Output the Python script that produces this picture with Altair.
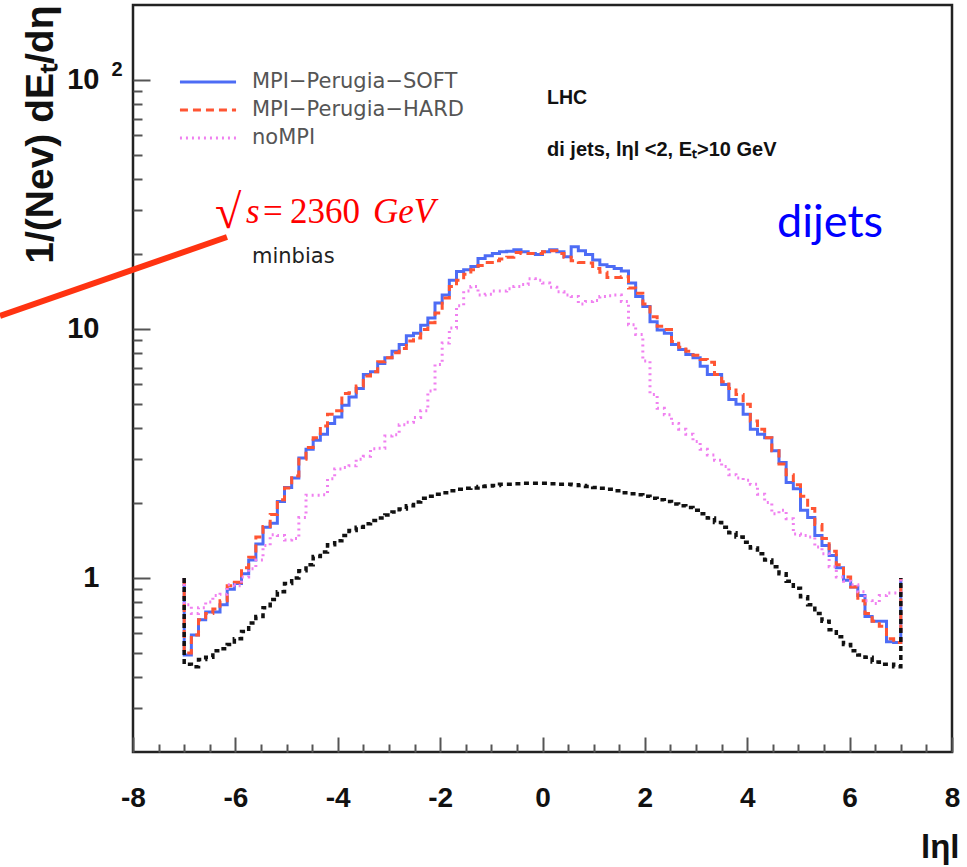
import altair as alt
import pandas as pd

# ---------------- data ----------------
ETA_MIN, ETA_MAX = -7.0, 7.0     # histogram range (100 bins)
EDGE_LEVEL = 1.0                 # level the outer histogram edges are drawn up to

SERIES = ["MPI\u2212Perugia\u2212SOFT", "MPI\u2212Perugia\u2212HARD", "noMPI"]
COLORS = ["#4d6cf5", "#ff5533", "#f080f0"]
DASHES = [[1, 0], [8, 5], [2, 4]]

soft = [0.49, 0.59, 0.68, 0.73, 0.73, 0.78, 0.90, 0.95, 1.04, 1.18,
        1.37, 1.60, 1.66, 2.03, 2.31, 2.52, 3.03, 3.29, 3.57, 3.78,
        4.17, 4.43, 4.94, 5.33, 5.77, 6.56, 6.73, 7.27, 7.66, 8.14,
        8.66, 9.40, 9.60, 10.35, 11.07, 12.7, 13.7, 15.7, 17.0, 17.3,
        17.8, 19.2, 19.7, 20.1, 20.4, 20.5, 20.8, 20.4, 20.1, 19.9,
        20.4, 20.8, 20.4, 19.5, 21.4, 20.6, 19.9, 18.9, 18.1, 17.8,
        17.5, 17.1, 15.3, 13.5, 12.3, 10.7, 9.9, 9.6, 8.66, 8.27,
        7.89, 7.66, 7.09, 6.56, 6.56, 5.99, 5.21, 4.98, 4.54, 3.96,
        3.78, 3.66, 3.24, 2.91, 2.42, 2.28, 1.87, 1.75, 1.48, 1.35,
        1.23, 1.10, 0.98, 0.92, 0.85, 0.70, 0.67, 0.67, 0.555, 0.55]

hard = [0.50, 0.59, 0.68, 0.72, 0.75, 0.81, 0.93, 0.96, 1.10, 1.21,
        1.46, 1.61, 1.80, 2.06, 2.30, 2.57, 3.00, 3.34, 3.66, 4.08,
        4.54, 4.69, 5.50, 5.55, 5.90, 6.47, 6.73, 7.38, 7.66, 8.02,
        8.34, 8.95, 9.20, 9.94, 10.6, 11.6, 13.3, 14.8, 15.7, 16.6,
        17.3, 18.0, 18.5, 18.8, 19.1, 19.4, 20.3, 20.1, 20.1, 20.1,
        20.4, 20.6, 20.1, 19.4, 18.8, 18.5, 18.4, 17.5, 16.9, 16.1,
        16.1, 16.2, 14.6, 13.9, 12.6, 11.2, 10.25, 9.94, 8.9, 8.45,
        8.14, 7.85, 7.54, 7.35, 6.56, 6.14, 5.77, 5.46, 4.98, 4.27,
        3.96, 3.66, 3.24, 2.87, 2.60, 2.37, 2.13, 1.90, 1.64, 1.44,
        1.28, 1.13, 1.01, 0.92, 0.81, 0.72, 0.67, 0.64, 0.57, 0.55]

nompi = [0.78, 0.72, 0.76, 0.80, 0.85, 0.86, 0.94, 0.93, 1.01, 1.09,
         1.18, 1.35, 1.49, 1.48, 1.42, 1.44, 1.75, 2.15, 2.15, 2.16,
         2.50, 2.74, 2.78, 2.82, 3.00, 3.08, 3.30, 3.32, 3.72, 3.76,
         4.12, 4.22, 4.41, 4.69, 5.63, 7.2, 8.79, 10.1, 12.4, 14.2,
         14.8, 13.7, 13.8, 14.2, 14.2, 14.5, 14.8, 15.1, 15.9, 15.7,
         15.3, 14.7, 14.1, 13.7, 13.5, 12.6, 12.9, 13.0, 13.5, 13.6,
         13.7, 12.9, 10.4, 9.49, 7.43, 5.46, 4.80, 4.52, 4.17, 3.96,
         3.78, 3.53, 3.29, 3.12, 2.97, 2.80, 2.60, 2.52, 2.47, 2.38,
         2.17, 2.01, 1.81, 1.87, 1.73, 1.50, 1.48, 1.46, 1.33, 1.25,
         1.11, 1.01, 0.97, 0.94, 0.88, 0.81, 0.79, 0.85, 0.87, 0.87]

minbias = [0.45, 0.44, 0.47, 0.48, 0.51, 0.52, 0.54, 0.57, 0.61, 0.66,
           0.70, 0.76, 0.82, 0.88, 0.95, 1.00, 1.07, 1.13, 1.22, 1.27,
           1.36, 1.41, 1.48, 1.55, 1.60, 1.65, 1.70, 1.74, 1.79, 1.84,
           1.89, 1.95, 2.02, 2.09, 2.13, 2.17, 2.20, 2.24, 2.27, 2.29,
           2.30, 2.33, 2.34, 2.35, 2.38, 2.38, 2.39, 2.40, 2.40, 2.40,
           2.40, 2.39, 2.38, 2.38, 2.37, 2.35, 2.33, 2.31, 2.29, 2.27,
           2.24, 2.20, 2.18, 2.16, 2.13, 2.09, 2.06, 2.03, 1.98, 1.95,
           1.92, 1.87, 1.81, 1.74, 1.67, 1.60, 1.52, 1.46, 1.39, 1.32,
           1.25, 1.18, 1.11, 1.04, 0.97, 0.91, 0.84, 0.78, 0.72, 0.67,
           0.62, 0.58, 0.54, 0.51, 0.49, 0.48, 0.46, 0.45, 0.45, 0.44]

X_MAJOR = [-8, -6, -4, -2, 0, 2, 4, 6, 8]
X_MINOR = [k / 2 for k in range(-15, 16) if k % 4 != 0]
Y_MAJOR = [1, 10, 100]
Y_MINOR = [0.3, 0.4, 0.5, 0.6, 0.7, 0.8, 0.9,
           2, 3, 4, 5, 6, 7, 8, 9,
           20, 30, 40, 50, 60, 70, 80, 90]


def step_rows(name, vals):
    n = len(vals)
    w = (ETA_MAX - ETA_MIN) / n
    rows = [{"series": name, "eta": ETA_MIN, "v": EDGE_LEVEL, "o": 0}]
    for i, val in enumerate(vals):
        rows.append({"series": name, "eta": ETA_MIN + i * w, "v": val, "o": 2 * i + 1})
        rows.append({"series": name, "eta": ETA_MIN + (i + 1) * w, "v": val, "o": 2 * i + 2})
    rows.append({"series": name, "eta": ETA_MAX, "v": EDGE_LEVEL, "o": 2 * n + 1})
    return rows


main_df = pd.DataFrame(step_rows(SERIES[0], soft) + step_rows(SERIES[1], hard)
                       + step_rows(SERIES[2], nompi))
mb_df = pd.DataFrame(step_rows("minbias", minbias))

# ---------------- styling ----------------
FONT = "Liberation Sans"
TICK = "#555555"
W, H = 819, 747

xs = alt.Scale(domain=[-8, 8], nice=False, zero=False)
ys = alt.Scale(type="log", domain=[0.2, 200], nice=False)

x_major = alt.Axis(orient="bottom", values=X_MAJOR, offset=-15, tickSize=15, tickWidth=2,
                   tickColor=TICK, domain=False, grid=False, labelFlush=False,
                   labelOverlap=False, labelExpr="toString(datum.value)", labelFont=FONT,
                   labelFontWeight="bold", labelFontSize=28, labelColor="#111111",
                   labelPadding=32, title="l\u03b7l", titleFont=FONT, titleFontWeight="bold",
                   titleFontSize=33, titleColor="#111111", titleAlign="right",
                   titleBaseline="alphabetic", titleX=826, titleY=120)
y_major = alt.Axis(orient="left", values=Y_MAJOR, offset=-17, tickSize=17, tickWidth=2,
                   tickColor=TICK, domain=False, grid=False, labelFlush=False,
                   labelOverlap=False, labelExpr="datum.value >= 10 ? '10' : '1'",
                   labelFont=FONT, labelFontWeight="bold", labelFontSize=29,
                   labelColor="#111111", labelPadding=34,
                   title="1/(Nev) dE\u209c/d\u03b7", titleFont=FONT, titleFontWeight="bold",
                   titleFontSize=39, titleColor="#111111", titleAngle=270,
                   titleAlign="right", titleBaseline="middle", titleX=-110, titleY=0)
x_minor = alt.Axis(orient="bottom", values=X_MINOR, offset=-8, tickSize=8, tickWidth=2,
                   tickColor=TICK, domain=False, grid=False, labels=False, title="")
y_minor = alt.Axis(orient="left", values=Y_MINOR, offset=-9, tickSize=9, tickWidth=2,
                   tickColor=TICK, domain=False, grid=False, labels=False, title="")

leg = alt.Legend(title=None, orient="none", legendX=57, legendY=59,
                 symbolType="M-1.7,0H1.7", symbolSize=1089, symbolStrokeWidth=3,
                 labelFont="DejaVu Sans", labelFontSize=21, labelColor="#555555",
                 labelOffset=26, rowPadding=0, padding=0, labelLimit=400)

main = alt.Chart(main_df).mark_line(strokeWidth=3, strokeCap="butt").encode(
    x=alt.X("eta:Q", scale=xs, axis=x_major),
    y=alt.Y("v:Q", scale=ys, axis=y_major),
    color=alt.Color("series:N", scale=alt.Scale(domain=SERIES, range=COLORS), legend=leg),
    strokeDash=alt.StrokeDash("series:N", scale=alt.Scale(domain=SERIES, range=DASHES),
                              legend=leg),
    order=alt.Order("o:Q"),
)

mb = alt.Chart(mb_df).mark_line(color="#111111", strokeWidth=3.5, strokeDash=[5, 4],
                                strokeCap="butt").encode(
    x=alt.X("eta:Q", scale=xs, axis=x_minor),
    y=alt.Y("v:Q", scale=ys, axis=y_minor),
    order=alt.Order("o:Q"),
)


def note(text, x, y, **kw):
    return alt.Chart(alt.Data(values=[{}])).mark_text(text=text, **kw).encode(
        x=alt.value(x), y=alt.value(y))


notes = [
    note("2", -16, 65, font=FONT, fontWeight="bold", fontSize=20, color="#111111",
         align="center", baseline="middle"),
    note("LHC", 414, 93, font=FONT, fontWeight="bold", fontSize=19.5, color="#111111",
         align="left", baseline="middle"),
    note("di jets, l\u03b7l <2, E\u209c>10 GeV", 414, 145, font=FONT, fontWeight="bold",
         fontSize=20, color="#111111", align="left", baseline="middle"),
    note("dijets", 644, 232, font="Lato", fontSize=45, color="#0000ff", align="left",
         baseline="alphabetic"),
    note("minbias", 119, 252, font="DejaVu Sans", fontSize=21, color="#222222",
         align="left", baseline="middle"),
    note("\u221a", 82, 223, font="Liberation Serif", fontSize=48, color="#ff0000",
         align="left", baseline="alphabetic"),
    note("s", 113, 218, font="Liberation Serif", fontStyle="italic", fontSize=35,
         color="#ff0000", align="left", baseline="alphabetic"),
    note("=", 130, 218, font="Liberation Serif", fontSize=35, color="#ff0000",
         align="left", baseline="alphabetic"),
    note("2360", 157, 218, font="Liberation Serif", fontSize=35, color="#ff0000",
         align="left", baseline="alphabetic"),
    note("GeV", 240, 218, font="Liberation Serif", fontStyle="italic", fontSize=35,
         color="#ff0000", align="left", baseline="alphabetic"),
]

pointer = alt.Chart(alt.Data(values=[{}])).mark_rule(color="#ff3311", strokeWidth=6,
                                                      strokeCap="butt").encode(
    x=alt.value(-133), x2=alt.value(94), y=alt.value(311), y2=alt.value(232))

chart = alt.layer(main, mb, *notes, pointer).resolve_scale(
    x="shared", y="shared").resolve_axis(x="independent", y="independent").properties(
    width=W, height=H,
    autosize=alt.AutoSizeParams(type="none"),
    padding={"left": 133, "top": 5, "right": 15, "bottom": 115},
    background="white",
).configure_view(stroke="#222222", strokeWidth=2.5)

chart.save("out.html", embed_options={"renderer": "svg", "actions": False})
